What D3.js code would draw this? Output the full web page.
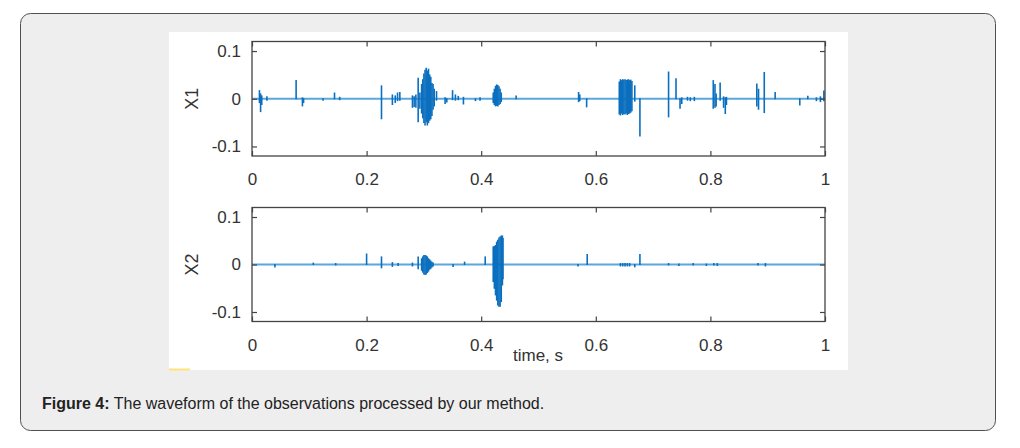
<!DOCTYPE html>
<html>
<head>
<meta charset="utf-8">
<script src="https://cdn.jsdelivr.net/npm/d3@7"></script>
<style>
  html, body { margin: 0; padding: 0; background: #ffffff; }
  svg { display: block; font-family: "Liberation Sans", Arial, Helvetica, sans-serif; }
</style>
</head>
<body>
<svg id="chart" width="1020" height="448"></svg>
<script>
// ---- data ----
// events: [time (s), upper value, lower value]
const x1Events = [
  [0.013, 0.017, -0.008], [0.015, 0.010, -0.027], [0.017, 0.006, -0.012], [0.026, 0.004, -0.003],
  [0.077, 0.038, 0.000], [0.088, 0.002, -0.015], [0.090, 0.000, -0.008], [0.124, 0.000, -0.003],
  [0.144, 0.012, 0.000], [0.153, 0.003, -0.002],
  [0.226, 0.027, -0.042], [0.245, 0.008, -0.012], [0.250, 0.006, -0.008], [0.254, 0.012, -0.004], [0.258, 0.013, -0.003],
  [0.280, 0.006, -0.018], [0.283, 0.004, -0.016], [0.286, 0.008, -0.018],
  [0.290, 0.043, -0.048], [0.293, 0.012, -0.020],
  [0.296, 0.030, -0.030], [0.298, 0.040, -0.040], [0.300, 0.052, -0.050], [0.302, 0.060, -0.055],
  [0.304, 0.064, -0.048], [0.306, 0.058, -0.055], [0.308, 0.062, -0.050], [0.310, 0.050, -0.045],
  [0.312, 0.045, -0.042], [0.314, 0.032, -0.035], [0.316, 0.030, -0.022], [0.318, 0.020, -0.015],
  [0.322, 0.015, -0.003], [0.337, 0.002, -0.010], [0.340, 0.000, -0.007],
  [0.350, 0.017, -0.002], [0.355, 0.008, -0.003], [0.360, 0.005, -0.002], [0.369, 0.003, -0.011],
  [0.390, 0.000, -0.004], [0.398, 0.002, -0.003],
  [0.421, 0.012, -0.008], [0.423, 0.020, -0.012], [0.425, 0.026, -0.015], [0.427, 0.029, -0.014],
  [0.429, 0.028, -0.015], [0.431, 0.025, -0.012], [0.433, 0.020, -0.010], [0.435, 0.012, -0.006],
  [0.461, 0.006, 0.000],
  [0.570, 0.013, -0.006], [0.572, 0.008, -0.004], [0.584, 0.000, -0.017],
  [0.641, 0.035, -0.032], [0.643, 0.040, -0.034], [0.645, 0.038, -0.030], [0.647, 0.040, -0.033],
  [0.649, 0.039, -0.031], [0.651, 0.040, -0.032], [0.653, 0.038, -0.030], [0.655, 0.039, -0.033],
  [0.657, 0.040, -0.031], [0.659, 0.038, -0.030], [0.661, 0.039, -0.028], [0.663, 0.036, -0.025],
  [0.668, 0.027, -0.005], [0.677, 0.000, -0.078],
  [0.727, 0.056, -0.038], [0.740, 0.042, 0.000], [0.747, 0.000, -0.020], [0.750, 0.002, -0.010],
  [0.760, 0.003, -0.003], [0.765, 0.002, -0.004], [0.772, 0.003, -0.004],
  [0.805, 0.038, -0.020], [0.808, 0.030, -0.018], [0.810, 0.010, -0.015], [0.817, 0.033, -0.003],
  [0.823, 0.004, -0.018], [0.826, 0.002, -0.031], [0.828, 0.003, -0.012],
  [0.881, 0.031, -0.015], [0.884, 0.020, -0.022], [0.894, 0.055, -0.029],
  [0.913, 0.013, 0.000], [0.956, 0.000, -0.013], [0.970, 0.005, 0.000],
  [0.985, 0.002, -0.004], [0.992, 0.004, -0.006], [0.998, 0.016, -0.004]
];
const x2Events = [
  [0.040, 0.000, -0.005], [0.107, 0.003, 0.000], [0.146, 0.002, -0.001],
  [0.200, 0.022, 0.000], [0.226, 0.016, -0.007], [0.245, 0.004, -0.004], [0.255, 0.002, -0.002],
  [0.280, 0.003, -0.003], [0.290, 0.016, -0.009],
  [0.296, 0.012, -0.012], [0.298, 0.016, -0.016], [0.300, 0.019, -0.020], [0.302, 0.019, -0.021],
  [0.304, 0.018, -0.020], [0.306, 0.016, -0.017], [0.308, 0.012, -0.014], [0.310, 0.010, -0.010],
  [0.312, 0.007, -0.008], [0.314, 0.005, -0.005], [0.316, 0.003, -0.003],
  [0.351, 0.000, -0.004], [0.371, 0.005, 0.000], [0.407, 0.016, 0.000],
  [0.421, 0.037, -0.036], [0.423, 0.038, -0.050], [0.425, 0.040, -0.064], [0.427, 0.047, -0.075],
  [0.429, 0.051, -0.085], [0.431, 0.056, -0.088], [0.433, 0.058, -0.088], [0.435, 0.060, -0.078],
  [0.437, 0.060, -0.043], [0.438, 0.055, -0.030],
  [0.569, 0.000, -0.003], [0.585, 0.021, 0.000],
  [0.643, 0.002, -0.003], [0.647, 0.002, -0.003], [0.651, 0.002, -0.003], [0.655, 0.002, -0.003], [0.659, 0.002, -0.003],
  [0.668, 0.000, -0.005], [0.677, 0.021, 0.000],
  [0.727, 0.002, -0.001], [0.745, 0.001, -0.002], [0.770, 0.002, -0.001], [0.793, 0.001, -0.002],
  [0.806, 0.002, -0.001], [0.812, 0.002, -0.002], [0.883, 0.002, -0.001], [0.896, 0.002, -0.003]
];
const xTicks = [0, 0.2, 0.4, 0.6, 0.8, 1];
const xTickLabels = ["0", "0.2", "0.4", "0.6", "0.8", "1"];
const yTicks = [-0.1, 0, 0.1];
const yTickLabels = ["-0.1", "0", "0.1"];
const panelNames = ["X1", "X2"];
const xLabel = "time, s";
const captionBold = "Figure 4:";
const captionText = " The waveform of the observations processed by our method.";

// ---- drawing ----
const svg = d3.select("#chart");

// card
svg.append("rect").attr("x", 20.5).attr("y", 13.5).attr("width", 975).attr("height", 417)
  .attr("rx", 10).attr("fill", "#eeeeee").attr("stroke", "#505050").attr("stroke-width", 1);
// white image area
svg.append("rect").attr("x", 169).attr("y", 32).attr("width", 679).attr("height", 338).attr("fill", "#ffffff");
svg.append("rect").attr("x", 169).attr("y", 368.5).attr("width", 21).attr("height", 2).attr("fill", "#ffe27a");

const x = d3.scaleLinear().domain([0, 1]).range([252, 825]);
const panels = [
  { name: panelNames[0], data: x1Events, top: 41.5, bottom: 156 },
  { name: panelNames[1], data: x2Events, top: 207.5, bottom: 321.5 }
];

const axisColor = "#444";
const textColor = "#333";
const fontSize = 17;

panels.forEach((p, i) => {
  const y = d3.scaleLinear().domain([-0.12, 0.12]).range([p.bottom, p.top]);
  const g = svg.append("g");

  // baseline
  g.append("path")
    .attr("d", d3.line().x(d => x(d[0])).y(d => y(d[1]))([[0, 0], [1, 0]]))
    .attr("stroke", "#5aa6dd").attr("stroke-width", 2).attr("fill", "none");

  // spikes
  g.selectAll("line.spike").data(p.data).join("line").attr("class", "spike")
    .attr("x1", d => x(d[0])).attr("x2", d => x(d[0]))
    .attr("y1", d => y(d[1]) - 0.5).attr("y2", d => y(d[2]) + 0.5)
    .attr("stroke", "#0b6fbf").attr("stroke-width", 1.6);

  // axes (inward ticks on all sides)
  const bottomAxis = d3.axisBottom(x).tickValues(xTicks).tickSize(-5).tickPadding(17)
    .tickFormat((d, k) => xTickLabels[k]);
  const topAxis = d3.axisTop(x).tickValues(xTicks).tickSize(-5).tickFormat("");
  const leftAxis = d3.axisLeft(y).tickValues(yTicks).tickSize(-5).tickPadding(11)
    .tickFormat((d, k) => yTickLabels[k]);
  const rightAxis = d3.axisRight(y).tickValues(yTicks).tickSize(-5).tickFormat("");

  const styleAxis = sel => {
    sel.select(".domain").remove();
    sel.selectAll(".tick line").attr("stroke", axisColor).attr("stroke-width", 1.2);
    sel.selectAll(".tick text").attr("fill", textColor).style("font-size", fontSize + "px")
      .style("font-family", "'Liberation Sans', Arial, sans-serif");
  };
  g.append("g").attr("transform", `translate(0,${p.bottom})`).call(bottomAxis).call(styleAxis);
  g.append("g").attr("transform", `translate(0,${p.top})`).call(topAxis).call(styleAxis);
  g.append("g").attr("transform", `translate(${x(0)},0)`).call(leftAxis).call(styleAxis);
  g.append("g").attr("transform", `translate(${x(1)},0)`).call(rightAxis).call(styleAxis);

  // box
  g.append("rect").attr("x", x(0)).attr("y", p.top).attr("width", x(1) - x(0)).attr("height", p.bottom - p.top)
    .attr("fill", "none").attr("stroke", axisColor).attr("stroke-width", 1.3);

  // y label
  g.append("text").attr("transform", `translate(198,${y(0)}) rotate(-90)`)
    .attr("text-anchor", "middle").attr("fill", textColor).style("font-size", "18px")
    .text(p.name);
});

svg.append("text").attr("x", 538).attr("y", 361).attr("text-anchor", "middle")
  .attr("fill", textColor).style("font-size", fontSize + "px").text(xLabel);

const cap = svg.append("text").attr("x", 42).attr("y", 409).attr("fill", "#222").style("font-size", "16px");
cap.append("tspan").attr("font-weight", "bold").text(captionBold);
cap.append("tspan").text(captionText);
</script>
</body>
</html>
